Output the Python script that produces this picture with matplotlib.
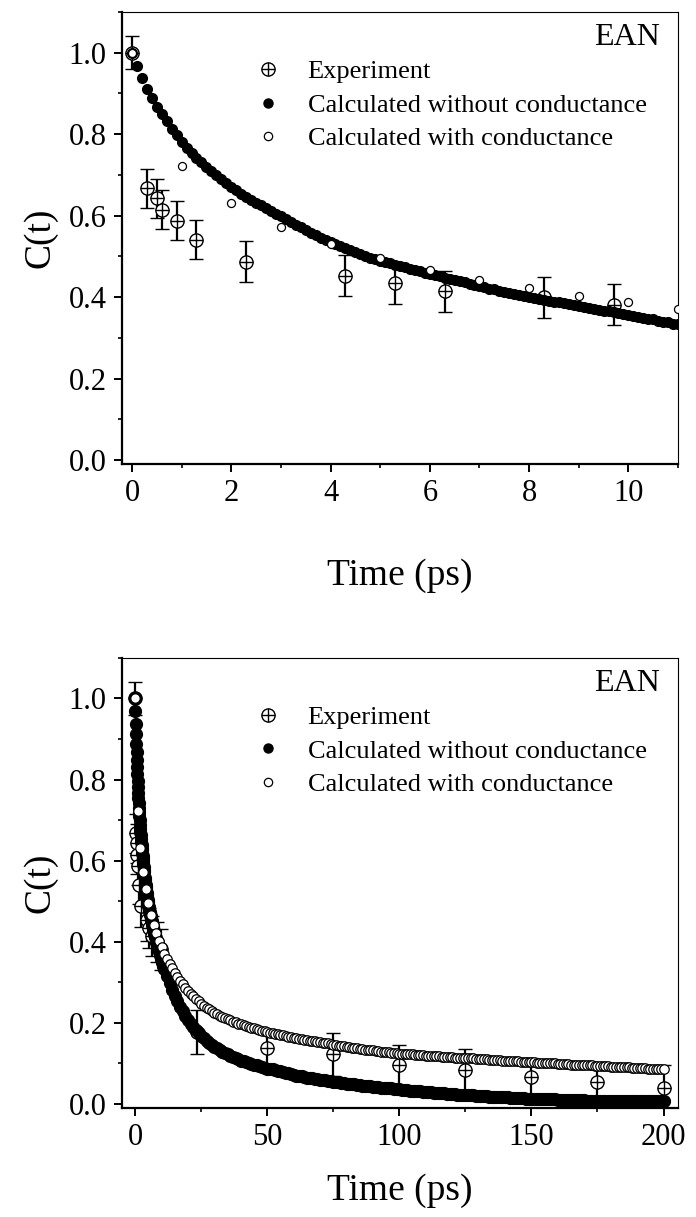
import numpy as np
import matplotlib
matplotlib.use('Agg')
import matplotlib.pyplot as plt
from matplotlib.lines import Line2D
from matplotlib.ticker import MultipleLocator

plt.rcParams['font.family'] = ['Liberation Serif', 'DejaVu Serif']

# experimental points (ps, C(t), error)
exp_t = [0.0, 0.3, 0.5, 0.6, 0.9, 1.3, 2.3, 4.3, 5.3, 6.3, 8.3, 9.7,
         23.5, 50, 75, 100, 125, 150, 175, 200]
exp_c = [1.000, 0.667, 0.643, 0.615, 0.587, 0.541, 0.487, 0.453, 0.434, 0.414, 0.399, 0.381,
         0.178, 0.138, 0.122, 0.095, 0.083, 0.066, 0.054, 0.040]
exp_err = [0.040, 0.048, 0.048, 0.048, 0.048, 0.048, 0.050, 0.050, 0.050, 0.050, 0.050, 0.050,
           0.054, 0.045, 0.053, 0.050, 0.052, 0.048, 0.048, 0.055]

# calculated without conductance, 0.1 ps steps from 0 to 11 ps
fine_t = np.round(np.arange(0, 11.05, 0.1), 1)
fine_c = [1.000, 0.968, 0.938, 0.912, 0.888, 0.867, 0.849, 0.832, 0.814, 0.797,
          0.781, 0.767, 0.754, 0.742, 0.731, 0.720, 0.709, 0.699, 0.689, 0.679,
          0.670, 0.662, 0.654, 0.646, 0.639, 0.632, 0.625, 0.618, 0.611, 0.604,
          0.598, 0.591, 0.584, 0.577, 0.571, 0.565, 0.558, 0.552, 0.546, 0.540,
          0.535, 0.530, 0.525, 0.520, 0.515, 0.511, 0.506, 0.502, 0.497, 0.493,
          0.489, 0.486, 0.483, 0.479, 0.476, 0.473, 0.470, 0.467, 0.463, 0.460,
          0.457, 0.454, 0.451, 0.448, 0.445, 0.442, 0.439, 0.436, 0.433, 0.430,
          0.427, 0.424, 0.421, 0.419, 0.416, 0.413, 0.411, 0.408, 0.405, 0.403,
          0.400, 0.398, 0.396, 0.393, 0.391, 0.389, 0.387, 0.385, 0.382, 0.380,
          0.378, 0.376, 0.374, 0.371, 0.369, 0.367, 0.365, 0.363, 0.360, 0.358,
          0.356, 0.354, 0.351, 0.349, 0.347, 0.345, 0.342, 0.340, 0.338, 0.335,
          0.333]

# calculated without conductance, 1 ps steps from 12 to 200 ps
long_c = [0.315, 0.298, 0.282, 0.267, 0.253, 0.240, 0.228, 0.217, 0.207, 0.198, 0.190, 0.182,
          0.175, 0.168, 0.162, 0.156, 0.151, 0.146, 0.141, 0.137, 0.133, 0.129, 0.125, 0.122,
          0.119, 0.116, 0.113, 0.110, 0.107, 0.105, 0.103, 0.101, 0.099, 0.097, 0.095, 0.093,
          0.091, 0.089, 0.087,
          0.087, 0.085, 0.083, 0.081, 0.080, 0.078, 0.076, 0.075, 0.073, 0.072, 0.070, 0.069,
          0.068, 0.066, 0.065, 0.064, 0.063, 0.062, 0.061, 0.060, 0.059, 0.058, 0.057, 0.056,
          0.055,
          0.054, 0.053, 0.052, 0.051, 0.050, 0.049, 0.049, 0.048, 0.047, 0.046, 0.045, 0.045,
          0.044, 0.043, 0.042, 0.042, 0.041, 0.040, 0.040, 0.039, 0.038, 0.038, 0.037, 0.036,
          0.036,
          0.035, 0.035, 0.034, 0.033, 0.033, 0.032, 0.032, 0.031, 0.030, 0.030, 0.029, 0.029,
          0.028, 0.028, 0.027, 0.026, 0.026, 0.025, 0.025, 0.024, 0.024, 0.023, 0.023, 0.022,
          0.022,
          0.021, 0.021, 0.021, 0.020, 0.020, 0.019, 0.019, 0.019, 0.018, 0.018, 0.017, 0.017,
          0.017, 0.016, 0.016, 0.016, 0.015, 0.015, 0.015, 0.014, 0.014, 0.014, 0.013, 0.013,
          0.013,
          0.013, 0.012, 0.012, 0.012, 0.012, 0.011, 0.011, 0.011, 0.011, 0.010, 0.010, 0.010,
          0.010, 0.010, 0.009, 0.009, 0.009, 0.009, 0.009, 0.009, 0.008, 0.008, 0.008, 0.008,
          0.008,
          0.008, 0.008, 0.008, 0.007, 0.007, 0.007, 0.007, 0.007, 0.007, 0.007, 0.007, 0.007,
          0.007, 0.006, 0.006, 0.006, 0.006, 0.006, 0.006, 0.006, 0.006, 0.006, 0.006, 0.006,
          0.006]
long_t = np.arange(12, 12 + len(long_c))

# calculated with conductance, 1 ps steps from 0 to 200 ps
cond_c = [1.000, 0.723, 0.632, 0.573, 0.531, 0.496, 0.467, 0.442, 0.422, 0.402, 0.388, 0.370,
          0.357, 0.345, 0.334, 0.323, 0.313, 0.304, 0.295, 0.287, 0.279,
          0.272, 0.265, 0.259, 0.253, 0.247, 0.242, 0.237, 0.233, 0.229, 0.225,
          0.221, 0.218, 0.215, 0.212, 0.209, 0.206, 0.203, 0.201, 0.198, 0.196,
          0.194, 0.192, 0.190, 0.188, 0.186, 0.184, 0.183, 0.181, 0.179, 0.178,
          0.176, 0.175, 0.173, 0.172, 0.170, 0.169, 0.167, 0.166, 0.165, 0.163, 0.162, 0.161,
          0.159, 0.158, 0.157, 0.156, 0.155, 0.154, 0.153, 0.152, 0.151, 0.150, 0.149, 0.147,
          0.146,
          0.145, 0.144, 0.143, 0.142, 0.141, 0.140, 0.139, 0.138, 0.137, 0.136, 0.135, 0.134,
          0.133, 0.132, 0.132, 0.131, 0.130, 0.129, 0.128, 0.128, 0.127, 0.126, 0.125, 0.125,
          0.124,
          0.124, 0.123, 0.123, 0.122, 0.122, 0.121, 0.121, 0.120, 0.120, 0.119, 0.119, 0.118,
          0.118, 0.117, 0.117, 0.116, 0.116, 0.115, 0.115, 0.115, 0.114, 0.114, 0.114, 0.113,
          0.113,
          0.113, 0.112, 0.112, 0.111, 0.111, 0.111, 0.110, 0.110, 0.109, 0.109, 0.108, 0.108,
          0.108, 0.107, 0.107, 0.106, 0.106, 0.106, 0.105, 0.105, 0.104, 0.104, 0.104, 0.103,
          0.103,
          0.103, 0.102, 0.102, 0.101, 0.101, 0.101, 0.100, 0.100, 0.100, 0.099, 0.099, 0.098,
          0.098, 0.098, 0.097, 0.097, 0.097, 0.096, 0.096, 0.096, 0.095, 0.095, 0.095, 0.094,
          0.094,
          0.094, 0.093, 0.093, 0.093, 0.092, 0.092, 0.091, 0.091, 0.091, 0.090, 0.090, 0.090,
          0.089, 0.089, 0.089, 0.088, 0.088, 0.088, 0.087, 0.087, 0.087, 0.086, 0.086, 0.086,
          0.085]
cond_t = np.arange(0, len(cond_c))

labels = ['Experiment', 'Calculated without conductance', 'Calculated with conductance']


def draw_panel(ax, dense_t, dense_c, xlabel_pad, dot_ms, ring_ms):
    # experiment: open circle with a cross, error bars
    ax.errorbar(exp_t, exp_c, yerr=exp_err, fmt='o', ms=9.5, mfc='white', mec='black',
                mew=1.0, ecolor='black', elinewidth=1.6, capsize=5, capthick=1.6, zorder=2)
    ax.plot(exp_t, exp_c, '+', ms=9.5, mew=1.0, color='black', zorder=2.5)
    # without conductance: filled dots
    ax.plot(dense_t, dense_c, 'o', ms=dot_ms, color='black', mec='black', zorder=3)
    # with conductance: open dots
    ax.plot(cond_t, cond_c, 'o', ms=ring_ms, mfc='white', mec='black', mew=0.9, zorder=4)

    ax.set_ylim(-0.01, 1.1)
    ax.yaxis.set_major_locator(MultipleLocator(0.2))
    ax.yaxis.set_minor_locator(MultipleLocator(0.1))
    ax.yaxis.set_major_formatter(plt.FormatStrFormatter('%.1f'))
    ax.tick_params(which='major', direction='out', length=6, width=1.4, labelsize=22, pad=5)
    ax.tick_params(which='minor', direction='out', length=3, width=1.2)
    ax.tick_params(top=False, right=False, which='both')
    ax.spines['left'].set_linewidth(1.6)
    ax.spines['bottom'].set_linewidth(1.6)
    ax.spines['top'].set_linewidth(0.8)
    ax.spines['right'].set_linewidth(0.8)
    ax.set_xlabel('Time (ps)', fontsize=27, labelpad=xlabel_pad)
    ax.set_ylabel('C(t)', fontsize=27, labelpad=8)
    ax.text(0.968, 0.944, 'EAN', fontsize=23, ha='right', va='center', transform=ax.transAxes)

    handles = [
        (Line2D([], [], ls='none', marker='o', ms=9.5, mfc='white', mec='black', mew=1.0),
         Line2D([], [], ls='none', marker='+', ms=9.5, mew=1.0, color='black')),
        Line2D([], [], ls='none', marker='o', ms=6.5, color='black'),
        Line2D([], [], ls='none', marker='o', ms=6.0, mfc='white', mec='black', mew=0.9),
    ]
    ax.legend(handles, labels, loc='upper left', bbox_to_anchor=(0.239, 0.894), frameon=False,
              fontsize=19, handlelength=1.0, handletextpad=1.0, labelspacing=0.38,
              borderpad=0, borderaxespad=0)


fig = plt.figure(figsize=(6.96, 12.17), dpi=100)

# short-time panel
ax1 = fig.add_axes([0.1753, 0.6187, 0.7989, 0.3714])
draw_panel(ax1, fine_t, fine_c, 36, 7.0, 5.8)
ax1.set_xlim(-0.2, 11.0)
ax1.xaxis.set_major_locator(MultipleLocator(2))
ax1.xaxis.set_minor_locator(MultipleLocator(1))

# long-time panel
ax2 = fig.add_axes([0.1753, 0.0896, 0.7989, 0.3698])
all_t = np.concatenate([fine_t, long_t])
all_c = np.concatenate([fine_c, long_c])
draw_panel(ax2, all_t, all_c, 15, 8.5, 6.8)
ax2.set_xlim(-5.0, 205.5)
ax2.xaxis.set_major_locator(MultipleLocator(50))
ax2.xaxis.set_minor_locator(MultipleLocator(25))

fig.savefig('out.png', dpi=100)
